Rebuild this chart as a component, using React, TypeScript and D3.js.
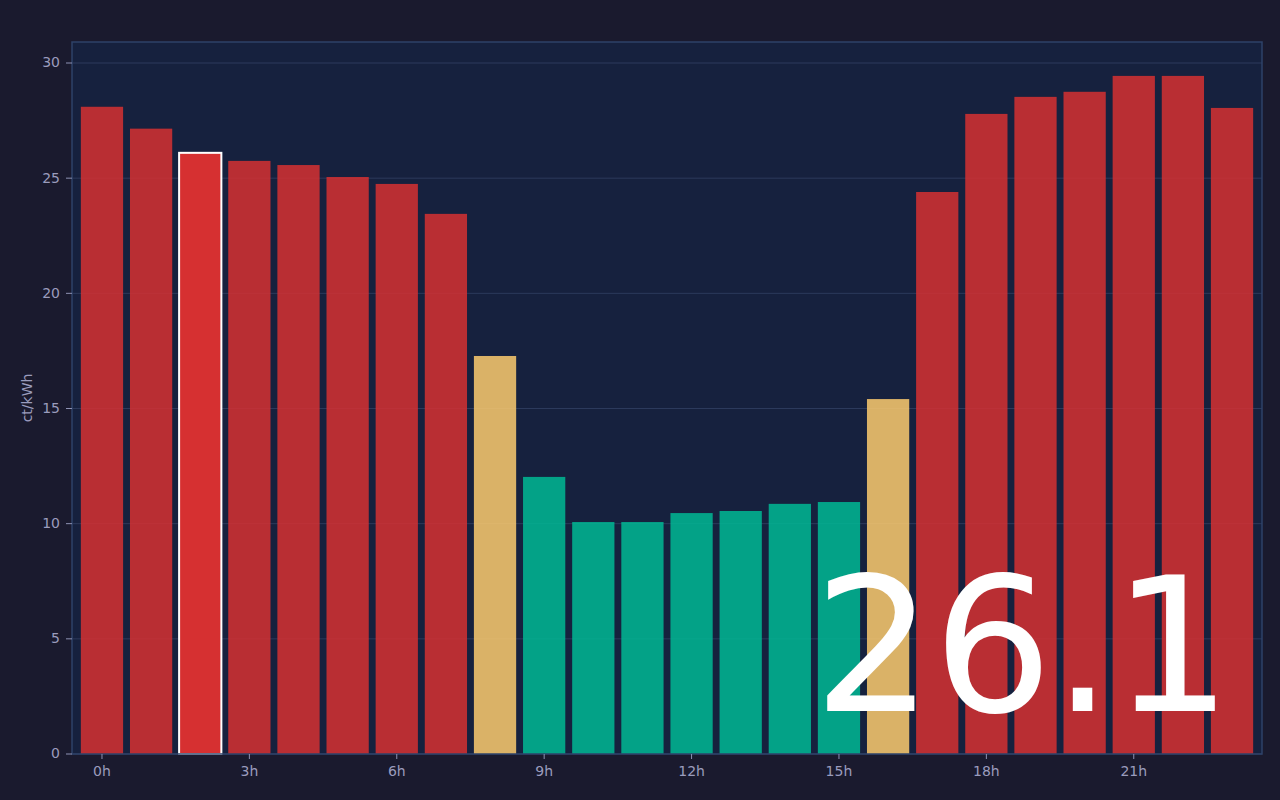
import React from "react";
import { scaleBand, scaleLinear, max as d3Max } from "d3";

// hourly prices (ct/kWh)
const hours = [0, 1, 2, 3, 4, 5, 6, 7, 8, 9, 10, 11, 12, 13, 14, 15, 16, 17, 18, 19, 20, 21, 22, 23];
const prices = [
  28.1, 27.15, 26.1, 25.75, 25.57, 25.05, 24.75, 23.45, 17.28, 12.03, 10.07, 10.07,
  10.46, 10.55, 10.86, 10.94, 15.41, 24.4, 27.79, 28.53, 28.75, 29.44, 29.44, 28.05,
];
const currentHour = 2;
const yTicks = [0, 5, 10, 15, 20, 25, 30];
const xTicks = [0, 3, 6, 9, 12, 15, 18, 21];
const unitLabel = "ct/kWh";

const W = 1280;
const H = 800;
const margin = { top: 42, right: 18, bottom: 46, left: 72 };
const FONT = "DejaVu Sans, Verdana, sans-serif";

function priceColor(v: number) {
  if (v < 15) return "#00b894";
  if (v < 20) return "#fdcb6e";
  return "#d63031";
}

export default function App() {
  const innerW = W - margin.left - margin.right;
  const innerH = H - margin.top - margin.bottom;

  const x = scaleBand<number>()
    .domain(hours)
    .range([0, innerW])
    .paddingInner(0.14)
    .paddingOuter(0.18);

  const y = scaleLinear()
    .domain([0, (d3Max(prices) ?? 0) * 1.05])
    .range([innerH, 0]);

  const current = prices[currentHour];

  return (
    <div style={{ position: "fixed", left: 0, top: 0, width: W, height: H, background: "#1a1a2e" }}>
      <svg width={W} height={H} style={{ display: "block", fontFamily: FONT }}>
        <rect width={W} height={H} fill="#1a1a2e" />
        <g transform={`translate(${margin.left},${margin.top})`}>
          {/* plot background */}
          <rect width={innerW} height={innerH} fill="#16213e" />

          {/* grid */}
          {yTicks.map((t) => (
            <line
              key={`g${t}`}
              x1={0}
              x2={innerW}
              y1={y(t)}
              y2={y(t)}
              stroke="#2c3a5c"
              strokeWidth={1}
            />
          ))}

          {/* bars */}
          {hours.map((h, i) => {
            const v = prices[i];
            const isCurrent = h === currentHour;
            return (
              <rect
                key={h}
                x={x(h)}
                y={y(v)}
                width={x.bandwidth()}
                height={innerH - y(v)}
                fill={priceColor(v)}
                fillOpacity={isCurrent ? 1 : 0.85}
                stroke={isCurrent ? "#ffffff" : "none"}
                strokeWidth={isCurrent ? 2 : 0}
              />
            );
          })}

          {/* frame */}
          <rect width={innerW} height={innerH} fill="none" stroke="#2e4268" strokeWidth={1.5} />

          {/* y axis */}
          {yTicks.map((t) => (
            <g key={`y${t}`} transform={`translate(0,${y(t)})`}>
              <line x1={-6} x2={0} stroke="#8e92b4" strokeWidth={1} />
              <text
                x={-12}
                dy="0.32em"
                textAnchor="end"
                fill="#9a9cbd"
                fontSize={14}
              >
                {t}
              </text>
            </g>
          ))}

          {/* x axis */}
          {xTicks.map((h) => (
            <g key={`x${h}`} transform={`translate(${(x(h) ?? 0) + x.bandwidth() / 2},${innerH})`}>
              <line y1={0} y2={5} stroke="#8e92b4" strokeWidth={1} />
              <text y={12} dy="0.71em" textAnchor="middle" fill="#9a9cbd" fontSize={14}>
                {h}h
              </text>
            </g>
          ))}

          {/* y axis title */}
          <text
            transform={`translate(${-40},${innerH / 2}) rotate(-90)`}
            textAnchor="middle"
            fill="#9a9cbd"
            fontSize={14}
          >
            {unitLabel}
          </text>

          {/* current price */}
          <text
            x={innerW - 30}
            y={innerH - 43}
            textAnchor="end"
            fill="#ffffff"
            fontSize={188}
          >
            {current.toFixed(1)}
          </text>
        </g>
      </svg>
    </div>
  );
}
